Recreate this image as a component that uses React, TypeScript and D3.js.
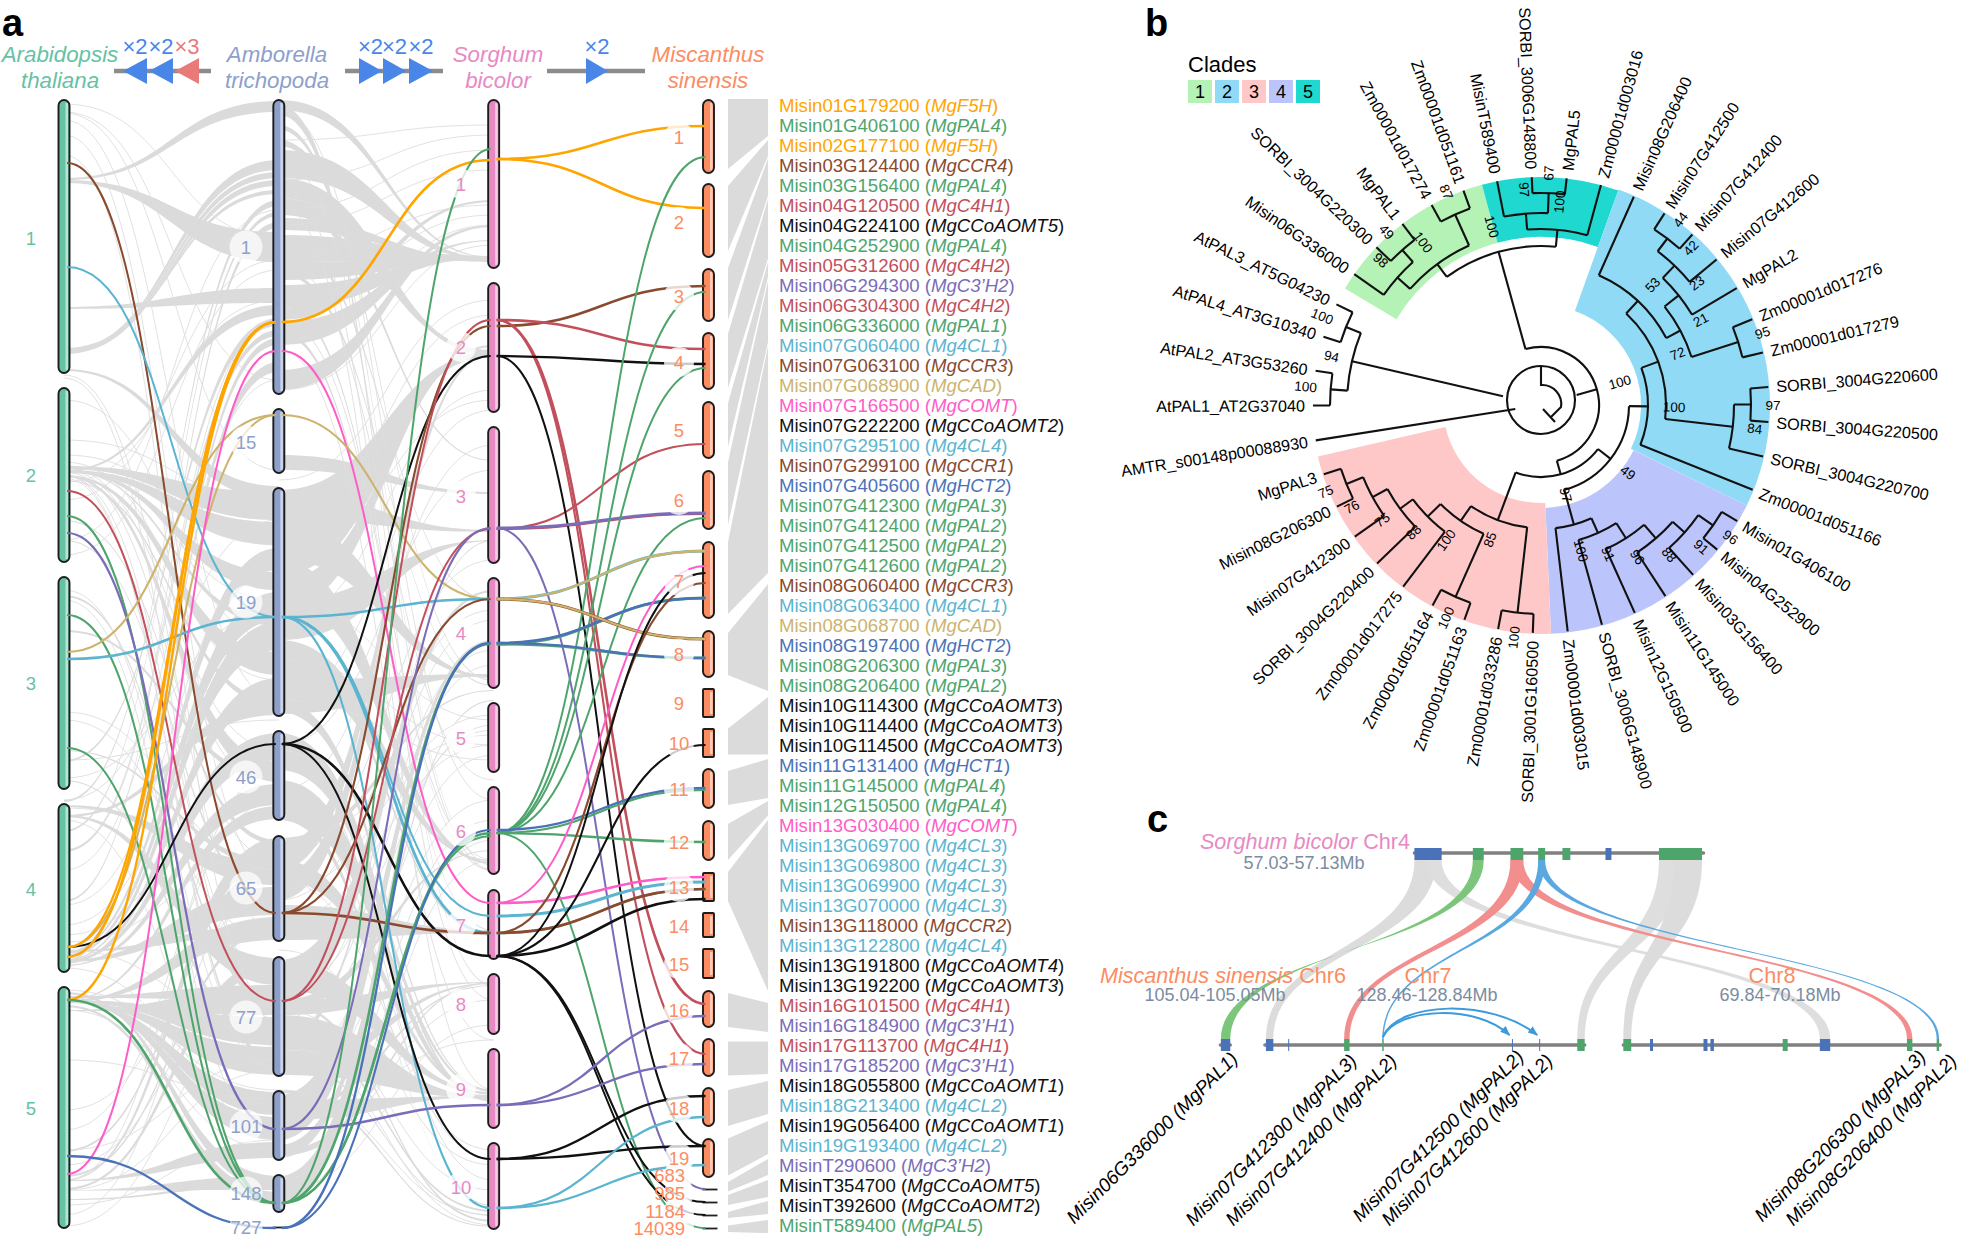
import React from "react";
import * as d3 from "d3";

const W = 1961, H = 1245;
const FONT = "'Liberation Sans', Arial, sans-serif";

// ---------- palette ----------
const C: Record<string, string> = {
  F5H: "#FFA500", PAL: "#4EA56C", CCR: "#8A4A2E", CCR4: "#8A4A2E", C4H: "#C2505C", OMT: "#111111",
  C3H: "#7A6CB8", CL: "#5BB4D0", CAD: "#CDB36C", COMT: "#FF5CC8", HCT: "#4A72B8",
};
const SP = { arab: "#66C2A5", amb: "#8DA0CB", sor: "#E78AC3", mis: "#FC8D62" };

// ---------- panel a: chromosomes (top, bottom, on a shared position axis) ----------
const tracks = ["arab", "amb", "sor", "mis"];
const arabChroms = [[100, 373], [388, 562], [577, 789], [804, 972], [987, 1228]];
const ambChroms = [[100, 394], [409, 473], [488, 716], [731, 820], [836, 941], [957, 1076], [1091, 1160], [1175, 1212], [1227, 1229]];
const sorChroms = [[100, 268], [283, 412], [427, 563], [578, 688], [703, 772], [787, 874], [890, 959], [974, 1034], [1049, 1128], [1143, 1229]];
const misChroms = [[100, 173], [184, 257], [269, 321], [333, 389], [402, 458], [471, 529], [542, 618], [631, 677], [689, 717], [729, 757], [769, 808], [821, 860], [873, 901], [913, 937], [949, 978], [991, 1027], [1039, 1076], [1088, 1126], [1139, 1177], [1189, 1190], [1202, 1203], [1215, 1216], [1228, 1229]];
const misSquare = [8, 9, 12, 13, 14];

const arabLabels = [["1", 238], ["2", 475], ["3", 683], ["4", 889], ["5", 1108]];
const ambLabels = [["1", 247], ["15", 442], ["19", 602], ["46", 777], ["65", 888], ["77", 1017], ["101", 1126], ["148", 1193], ["727", 1227]];
const sorLabels = [["1", 184], ["2", 347], ["3", 496], ["4", 633], ["5", 738], ["6", 831], ["7", 925], ["8", 1004], ["9", 1089], ["10", 1187]];
const misLabels = [["1", 137], ["2", 222], ["3", 296], ["4", 362], ["5", 430], ["6", 500], ["7", 581], ["8", 654], ["9", 703], ["10", 743], ["11", 789], ["12", 842], ["13", 887], ["14", 926], ["15", 964], ["16", 1010], ["17", 1058], ["18", 1108], ["19", 1158], ["683", 1175], ["985", 1193], ["1184", 1211], ["14039", 1228]];

// ---------- gray synteny ribbons [left top, left bottom, right top, right bottom] ----------
const ribbonsArabAmb = [
  [178, 180, 101, 112], [180, 183, 232, 262], [350, 352, 160, 170], [351, 353, 172, 178], [352, 354, 180, 186],
  [348, 350, 190, 194], [307, 309, 288, 303], [369, 371, 486, 500], [466, 469, 492, 520], [470, 473, 522, 545],
  [952, 954, 548, 570], [470, 472, 572, 590], [955, 957, 592, 620], [960, 961, 622, 650], [475, 477, 652, 675],
  [962, 964, 678, 700], [815, 817, 702, 715], [960, 962, 733, 760], [475, 477, 762, 782], [965, 966, 784, 805],
  [1000, 1001, 806, 819], [1180, 1181, 838, 860], [805, 807, 862, 885], [960, 962, 887, 915], [1000, 1002, 917, 940],
  [815, 817, 958, 985], [1010, 1011, 987, 1015], [1000, 1002, 1017, 1045], [1002, 1003, 1047, 1075],
  [1000, 1001, 1092, 1115], [1000, 1001, 1117, 1140], [1180, 1181, 1142, 1158], [1190, 1190.6, 1176, 1190],
  [1005, 1007, 1192, 1205], [470, 472, 305, 315], [960, 962, 338, 345], [955, 957, 362, 372], [800, 802, 200, 206],
  [830, 832, 212, 216], [900, 902, 222, 228], [760, 762, 318, 326], [850, 852, 330, 336], [992, 994, 1176, 1190],
  [1188, 1190, 958, 970], [1199, 1200, 1182, 1186], [950, 952, 925, 935], [996, 998, 985, 1000], [1150, 1152, 865, 872],
  [1175, 1177, 925, 930], [595, 597, 1000, 1006], [630, 632, 775, 781], [470, 471, 620, 626], [480, 481, 700, 706],
  [520, 521, 840, 845], [540, 541, 900, 905], [750, 751, 860, 866], [780, 781, 1040, 1046], [475, 476, 1060, 1066],
];
const ribbonsAmbSor = [
  [100, 110, 257, 258], [105, 115, 985, 986], [150, 178, 258, 260], [178, 198, 352, 355], [198, 215, 350, 352],
  [218, 230, 260, 262], [235, 262, 256, 259], [262, 280, 258, 260], [285, 308, 256, 258], [308, 320, 200, 202],
  [322, 345, 240, 241], [370, 390, 225, 227], [455, 470, 492, 494], [490, 540, 352, 356], [540, 575, 350, 352],
  [580, 610, 345, 347], [495, 520, 530, 532], [520, 560, 676, 678], [600, 640, 540, 541], [560, 600, 862, 864],
  [640, 680, 860, 861], [680, 714, 674, 676], [905, 940, 930, 933], [1060, 1075, 983, 984], [1000, 1015, 982, 983],
  [1015, 1050, 1097, 1099], [1050, 1075, 1095, 1098], [1100, 1120, 1096, 1097], [960, 990, 1092, 1094], [1030, 1034, 1210, 1212],
  [1000, 1003, 1220, 1222], [1090, 1093, 1226, 1227], [1060, 1062, 1215, 1216], [733, 750, 1100, 1102], [750, 770, 1090, 1092],
  [780, 818, 1098, 1100], [845, 870, 352, 354], [875, 900, 350, 351], [838, 845, 690, 691], [960, 1000, 590, 592],
  [1095, 1140, 640, 642], [1145, 1158, 700, 701], [1176, 1205, 640, 641], [200, 208, 460, 461], [240, 244, 600, 601],
  [270, 274, 685, 686], [300, 304, 870, 871], [330, 334, 930, 931], [140, 146, 680, 681], [125, 130, 865, 866],
  [640, 650, 935, 936], [700, 712, 1090, 1091], [860, 880, 1094, 1095], [1000, 1010, 850, 851], [1040, 1046, 540, 541],
  [1110, 1115, 985, 986], [1150, 1156, 982, 983], [820, 812, 1205, 1206],
];

// ---------- thin gray lines [left y, right y] ----------
const thinArabAmb = [
  [104, 238], [112, 380], [113, 470], [120, 700], [135, 880], [155, 1010], [350, 168], [352, 185], [375, 930], [378, 1020],
  [400, 640], [440, 500], [455, 545], [462, 680], [466, 600], [468, 750], [470, 790], [472, 860], [475, 980], [478, 1070],
  [482, 300], [500, 260], [540, 210], [555, 270], [590, 1070], [600, 1140], [712, 870], [720, 940], [760, 720], [778, 610],
  [800, 520], [808, 870], [820, 1140], [850, 320], [870, 380], [905, 560], [925, 640], [935, 760], [942, 850], [950, 1030],
  [968, 1105], [990, 1090], [1010, 1150], [1060, 1100], [1110, 900], [1130, 800], [1150, 1060], [1165, 960], [1180, 770], [1190, 1070],
  [1205, 1140], [1215, 880], [1226, 1000],
];
const thinAmbSor = [
  [140, 125], [180, 135], [210, 150], [225, 170], [255, 205], [300, 215], [340, 225], [390, 245], [480, 300], [520, 315],
  [560, 400], [620, 390], [700, 410], [745, 470], [790, 445], [860, 560], [900, 610], [965, 620], [1000, 650], [1020, 665],
  [110, 800], [160, 870], [185, 1000], [205, 1090], [260, 780], [320, 860], [350, 1040], [600, 720], [660, 745], [700, 760],
  [840, 735], [890, 715], [920, 745], [990, 730], [1030, 725], [1070, 755], [1100, 800], [1150, 820], [1180, 840], [1200, 860],
  [760, 1180], [810, 1160], [880, 1150], [950, 1165], [1010, 1190], [1045, 1225], [1090, 1215], [1120, 1040], [1155, 1000], [1190, 1025],
];

// ---------- coloured links [left y, right y, colour key, stroke width] ----------
const linksArabAmb = [
  [163, 913, "CCR", 2], [267, 617, "CL", 2], [491, 1001, "C4H", 2], [516, 1203, "PAL", 2], [533, 1129, "C3H", 2.2],
  [615, 1203, "PAL", 2], [652, 415, "CAD", 2.1], [659, 617, "CL", 2.6], [748, 1203, "PAL", 2], [947, 744, "OMT", 1.9],
  [947, 415, "CAD", 2], [957, 322, "F5H", 2.6], [947, 322, "F5H", 2.1], [1000, 322, "F5H", 2.3], [1000, 1203, "PAL", 2.6],
  [1174, 351, "COMT", 2], [1156, 1228, "HCT", 2.3],
];
const linksAmbSor = [
  [322, 160, "F5H", 2.6], [351, 903, "COMT", 2], [415, 599, "CAD", 2.1], [617, 599, "CL", 2.6], [617, 916, "CL", 2],
  [617, 933, "CL", 2.8], [617, 1208, "CL", 2], [744, 356, "OMT", 2], [744, 956, "OMT", 2.6], [744, 1159, "OMT", 2],
  [913, 326, "CCR", 2.1], [913, 599, "CCR", 2.1], [913, 933, "CCR", 2.6], [1001, 320, "C4H", 2], [1001, 529, "C4H", 2],
  [1129, 528, "C3H", 2], [1129, 1105, "C3H", 2.6], [1203, 149, "PAL", 2], [1203, 644, "PAL", 2.6], [1203, 833, "PAL", 2.6],
  [1203, 836, "PAL", 2], [1228, 643, "HCT", 2.3], [1228, 830, "HCT", 2.1],
];
const linksSorMis = [
  [159, 126, "F5H", 2.6], [159, 208, "F5H", 2.6], [326, 286, "CCR", 2.6], [320, 349, "C4H", 2.6], [320, 1004, "C4H", 2.6],
  [320, 1054, "C4H", 2.1], [529, 444, "C4H", 2.1], [529, 514, "C4H", 2.1], [356, 364, "OMT", 2.3], [356, 1146, "OMT", 2],
  [528, 513, "C3H", 2.8], [528, 1189, "C3H", 2], [833, 157, "PAL", 2], [833, 292, "PAL", 2], [833, 368, "PAL", 2],
  [833, 518, "PAL", 2], [833, 842, "PAL", 2.3], [833, 790, "PAL", 2.1], [833, 1228, "PAL", 2], [644, 598, "PAL", 2.8],
  [644, 658, "PAL", 2.8], [643, 598, "HCT", 2.6], [643, 658, "HCT", 2.3], [830, 788, "HCT", 2.3], [599, 551, "CL", 3],
  [599, 551, "CAD", 2.3], [599, 639, "CCR", 3], [599, 639, "CAD", 2.3], [903, 566, "COMT", 2], [903, 877, "COMT", 2.6],
  [916, 882, "CL", 3], [933, 889, "CL", 2.3], [933, 889, "CCR", 2.6], [933, 583, "CCR", 2.2], [956, 573, "OMT", 2],
  [956, 745, "OMT", 2.1], [956, 1202, "OMT", 2], [956, 1215, "OMT", 2], [956, 899, "OMT", 2.6], [1159, 1096, "OMT", 2.3],
  [1159, 1146, "OMT", 2.3], [1208, 1117, "CL", 2.3], [1208, 1165, "CL", 2.3], [1105, 1016, "C3H", 2.3], [1105, 1064, "C3H", 2.3],
];

// ---------- block on the right of the chromosomes [left top, left bottom, right top, right bottom] ----------
const misBlocks = [
  [99, 169, 99, 136], [186, 251, 140, 156], [268, 320, 158.5, 195.5], [334, 388, 199, 258.5], [403, 447, 262, 277],
  [462, 525, 281, 342], [542, 614, 346, 573], [633, 675, 584, 691], [728.5, 754.4, 697, 754.4], [771, 805, 759, 798],
  [824, 860, 801, 815.5], [872, 901, 820, 991], [993, 1027, 1003, 1032], [1041.5, 1075.5, 1041.5, 1074], [1090, 1126, 1081, 1114],
  [1138.5, 1175.5, 1121, 1154], [1182, 1191.5, 1159, 1175], [1195, 1205, 1180, 1197], [1212, 1218, 1201, 1214], [1225.5, 1232, 1220, 1233],
];

// ---------- gene list ----------
const genes = [
  ["Misin01G179200", "MgF5H", "F5H"], ["Misin01G406100", "MgPAL4", "PAL"], ["Misin02G177100", "MgF5H", "F5H"], ["Misin03G124400", "MgCCR4", "CCR"],
  ["Misin03G156400", "MgPAL4", "PAL"], ["Misin04G120500", "MgC4H1", "C4H"], ["Misin04G224100", "MgCCoAOMT5", "OMT"], ["Misin04G252900", "MgPAL4", "PAL"],
  ["Misin05G312600", "MgC4H2", "C4H"], ["Misin06G294300", "MgC3’H2", "C3H"], ["Misin06G304300", "MgC4H2", "C4H"], ["Misin06G336000", "MgPAL1", "PAL"],
  ["Misin07G060400", "Mg4CL1", "CL"], ["Misin07G063100", "MgCCR3", "CCR"], ["Misin07G068900", "MgCAD", "CAD"], ["Misin07G166500", "MgCOMT", "COMT"],
  ["Misin07G222200", "MgCCoAOMT2", "OMT"], ["Misin07G295100", "Mg4CL4", "CL"], ["Misin07G299100", "MgCCR1", "CCR"], ["Misin07G405600", "MgHCT2", "HCT"],
  ["Misin07G412300", "MgPAL3", "PAL"], ["Misin07G412400", "MgPAL2", "PAL"], ["Misin07G412500", "MgPAL2", "PAL"], ["Misin07G412600", "MgPAL2", "PAL"],
  ["Misin08G060400", "MgCCR3", "CCR"], ["Misin08G063400", "Mg4CL1", "CL"], ["Misin08G068700", "MgCAD", "CAD"], ["Misin08G197400", "MgHCT2", "HCT"],
  ["Misin08G206300", "MgPAL3", "PAL"], ["Misin08G206400", "MgPAL2", "PAL"], ["Misin10G114300", "MgCCoAOMT3", "OMT"], ["Misin10G114400", "MgCCoAOMT3", "OMT"],
  ["Misin10G114500", "MgCCoAOMT3", "OMT"], ["Misin11G131400", "MgHCT1", "HCT"], ["Misin11G145000", "MgPAL4", "PAL"], ["Misin12G150500", "MgPAL4", "PAL"],
  ["Misin13G030400", "MgCOMT", "COMT"], ["Misin13G069700", "Mg4CL3", "CL"], ["Misin13G069800", "Mg4CL3", "CL"], ["Misin13G069900", "Mg4CL3", "CL"],
  ["Misin13G070000", "Mg4CL3", "CL"], ["Misin13G118000", "MgCCR2", "CCR"], ["Misin13G122800", "Mg4CL4", "CL"], ["Misin13G191800", "MgCCoAOMT4", "OMT"],
  ["Misin13G192200", "MgCCoAOMT3", "OMT"], ["Misin16G101500", "MgC4H1", "C4H"], ["Misin16G184900", "MgC3’H1", "C3H"], ["Misin17G113700", "MgC4H1", "C4H"],
  ["Misin17G185200", "MgC3’H1", "C3H"], ["Misin18G055800", "MgCCoAOMT1", "OMT"], ["Misin18G213400", "Mg4CL2", "CL"], ["Misin19G056400", "MgCCoAOMT1", "OMT"],
  ["Misin19G193400", "Mg4CL2", "CL"], ["MisinT290600", "MgC3’H2", "C3H"], ["MisinT354700", "MgCCoAOMT5", "OMT"], ["MisinT392600", "MgCCoAOMT2", "OMT"],
  ["MisinT589400", "MgPAL5", "PAL"],
];

// ---------- species headers and polyploidy icons ----------
const headers = [
  ["Arabidopsis", "thaliana", 60, SP.arab], ["Amborella", "trichopoda", 277, SP.amb],
  ["Sorghum", "bicolor", 498, SP.sor], ["Miscanthus", "sinensis", 708, SP.mis],
];
const iconBars = [[114, 211], [345, 443], [547, 645]];
// left edge, right edge, direction, label, colour
const iconTriangles = [
  [123, 147, -1, "×2", "#4A86E8"], [149, 173, -1, "×2", "#4A86E8"], [175, 199, -1, "×3", "#E87A7A"],
  [359, 382, 1, "×2", "#4A86E8"], [383, 406, 1, "×2", "#4A86E8"], [409, 433, 1, "×2", "#4A86E8"],
  [586, 608, 1, "×2", "#4A86E8"],
];

// ---------- panel b: tree ----------
type N = { r?: number; name?: string; stem?: number; c?: N[] };
const L = (name: string): N => ({ name });
const treeGreen: N = { r: 175, c: [
  { r: 192, c: [L("Misin06G336000"), { r: 208, c: [L("SORBI_3004G220300"), L("MgPAL1")] }] },
  { r: 209, c: [L("Zm00001d017274"), L("Zm00001d051161")] },
] };
const treeTeal: N = { r: 176, c: [
  { r: 192, c: [L("MisinT589400"), { r: 212, c: [L("SORBI_3006G148800"), L("MgPAL5")] }] },
  L("Zm00001d003016"),
] };
const treeBlue: N = { r: 107, c: [
  { r: 125, c: [
    { r: 142, c: [L("Misin08G206400"), { r: 158, c: [
      { r: 176, c: [{ r: 193, c: [{ r: 209, c: [L("Misin07G412500"), L("Misin07G412400")] }, L("Misin07G412600")] }, L("MgPAL2")] },
      { r: 207, c: [L("Zm00001d017276"), L("Zm00001d017279")] },
    ] }] },
    { r: 193, c: [{ r: 210, c: [L("SORBI_3004G220600"), L("SORBI_3004G220500")] }, L("SORBI_3004G220700")] },
  ] },
  L("Zm00001d051166"),
] };
const treePurple: N = { r: 124, c: [{ r: 140, c: [{ r: 158, c: [{ r: 176, c: [{ r: 192, c: [{ r: 210, c: [L("Misin01G406100"), L("Misin04G252900")] }, L("Misin03G156400")] }, L("Misin11G145000")] }, L("Misin12G150500")] }, L("SORBI_3006G148900")] }, L("Zm00001d003015")] };
const treePink: N = { r: 123, c: [
  { r: 209, c: [L("SORBI_3001G160500"), L("Zm00001d033286")] },
  { r: 141, c: [
    { r: 210, c: [L("Zm00001d051163"), L("Zm00001d051164")] },
    { r: 159, c: [L("Zm00001d017275"), { r: 175, c: [L("SORBI_3004G220400"), { r: 192, c: [L("Misin07G412300"), { r: 210, c: [L("Misin08G206300"), L("MgPAL3")] }] }] }] },
  ] },
] };
const treeAt: N = { r: 194, stem: 39, c: [
  { r: 211, c: [L("AtPAL1_AT2G37040"), L("AtPAL2_AT3G53260")] },
  { r: 210, c: [L("AtPAL4_AT3G10340"), L("AtPAL3_AT5G04230")] },
] };
const treeRoot: N = { c: [
  { r: 58, stem: 37, c: [{ r: 159, c: [treeGreen, treeTeal] }, { r: 72, c: [{ r: 88, c: [treeBlue, treePurple] }, treePink] }] },
  { name: "AMTR_s00148p00088930", stem: 26 },
  treeAt,
] };
// [clade number, start angle, end angle, inner radius, outer radius, colour]
const cladeSectors = [
  [1, -59.3, -15, 168, 228, "#B5F2B5"], [5, -15, 19.8, 168, 228, "#1FD8D0"], [2, 19.8, 116, 100, 229, "#90DAF6"],
  [4, 116, 177.5, 103, 229, "#BCC5FB"], [3, 177.5, 257, 98, 229, "#FFC8C8"],
];
// [support value, angle, radius]
const supports = [
  ["49", -41.8, 232], ["100", -36, 201], ["98", -48, 216], ["87", -24, 233], ["100", -15.5, 185], ["97", -4.5, 216],
  ["67", 2, 232], ["100", 5.3, 204], ["44", 37, 232], ["42", 43.7, 217], ["23", 52, 198], ["53", 43, 164], ["21", 62, 181],
  ["72", 69.5, 146], ["95", 72, 233], ["100", 74, 82], ["100", 91, 133], ["97", 90, 232], ["84", 96.4, 215], ["96", 125, 231],
  ["91", 131.6, 214], ["88", 139.5, 197], ["96", 147.7, 180], ["91", 155.8, 163], ["100", 164.7, 151], ["97", 164.7, 93],
  ["49", 128, 110], ["100", 186.6, 234], ["85", 200.7, 144], ["100", 204, 233], ["100", 215, 165], ["88", 225, 180],
  ["75", 234, 196], ["76", 241.6, 215], ["75", 248, 232], ["100", 292, 236], ["94", 283, 215], ["100", 274.4, 236],
];
const cladeLegend = [[1, "#B5F2B5"], [2, "#90DAF6"], [3, "#FFC8C8"], [4, "#BCC5FB"], [5, "#1FD8D0"]];

// ---------- panel c ----------
const cBars = [[1418, 1710, 853], [1222, 1232, 1045], [1267, 1590, 1045], [1629, 1949, 1045]];
const cTopBlocks = [[1418, 1445.5, "#4A72B8"], [1477, 1488, "#4EA56C"], [1515, 1528, "#4EA56C"], [1543, 1550, "#4EA56C"], [1567.5, 1575.5, "#4EA56C"], [1611, 1617, "#4A72B8"], [1665, 1708.5, "#4EA56C"]];
const cBottomBlocks = [[1222.5, 1232, "#4A72B8"], [1268, 1275.5, "#4A72B8"], [1290.5, 1291.5, "#4A72B8"], [1347, 1352.5, "#4EA56C"], [1385.5, 1387, "#4EA56C"], [1516.5, 1517.5, "#4A72B8"], [1544, 1545, "#4A72B8"], [1582.5, 1590, "#4EA56C"], [1629, 1637, "#4EA56C"], [1656, 1659, "#4A72B8"], [1710, 1714, "#4A72B8"], [1717, 1720.5, "#4A72B8"], [1790, 1795, "#4EA56C"], [1827.5, 1838, "#4A72B8"], [1915.5, 1921, "#4EA56C"], [1945.5, 1948, "#4EA56C"]];
// top left, top right, bottom left, bottom right, colour
const cRibbons = [
  [1418, 1440, 1268, 1275.5, "#DCDCDC"], [1430, 1445.5, 1827.5, 1838, "#DEDEDE"], [1665, 1690, 1582.5, 1590, "#DEDEDE"], [1680, 1708.5, 1629, 1637, "#DCDCDC"],
  [1477, 1488, 1232, 1222.5, "#7CC67C"], [1515, 1528, 1347, 1352.5, "#F28E8E"], [1515, 1528, 1915.5, 1921, "#F28E8E"],
  [1543, 1550, 1385.5, 1387, "#5AA8E0"], [1543, 1550, 1945.5, 1948, "#5AA8E0"],
];
const cArrows = [[1386, 1516, 1012], [1386, 1544, 1006]];
const cGeneLabels = [
  ["Misin06G336000 (MgPAL1)", 1239, 1060], ["Misin07G412300 (MgPAL3)", 1358, 1062], ["Misin07G412400 (MgPAL2)", 1398, 1062],
  ["Misin07G412500 (MgPAL2)", 1525, 1058], ["Misin07G412600 (MgPAL2)", 1554, 1062], ["Misin08G206300 (MgPAL3)", 1927, 1058],
  ["Misin08G206400 (MgPAL2)", 1958, 1062],
];

// ---------- scales ----------
const xTrack = d3.scalePoint<string>().domain(tracks).range([64, 708.5]);
const yPos = d3.scaleLinear().domain([0, H]).range([0, H]);
const xC = d3.scaleLinear().domain([1060, 1960]).range([1060, 1951]);
const [treeX, treeY] = [1541, 405];
const leafAngle = d3.scaleLinear().domain([0, 1]).range([-55, -55 + 8.78]);
const LEAF_R = 228;

function ribbonPath(x0: number, x1: number, r: number[]) {
  const [a0, a1, b0, b1] = r.map(yPos);
  const m = (x0 + x1) / 2, p = d3.path();
  p.moveTo(x0, a0);
  p.bezierCurveTo(m, a0, m, b0, x1, b0);
  p.lineTo(x1, b1);
  p.bezierCurveTo(m, b1, m, a1, x0, a1);
  p.closePath();
  return p.toString();
}
const hLink = d3.linkHorizontal<any, any>().x((d: any) => d[0]).y((d: any) => d[1]);

function polar(a: number, r: number): [number, number] {
  const t = (a * Math.PI) / 180;
  return [treeX + r * Math.sin(t), treeY - r * Math.cos(t)];
}
function arcD(a0: number, a1: number, r: number) {
  const [x0, y0] = polar(a0, r), [x1, y1] = polar(a1, r);
  return `M${x0},${y0}A${r},${r} 0 ${Math.abs(a1 - a0) > 180 ? 1 : 0} ${a1 > a0 ? 1 : 0} ${x1},${y1}`;
}

// walks the tree, giving every leaf its slot and every node the middle of its children
function layoutTree() {
  const segs: string[] = [];
  const leaves: { name: string; a: number }[] = [];
  let i = 0;
  function walk(n: N): number {
    if (!n.c) {
      const a = leafAngle(i++);
      leaves.push({ name: n.name!, a });
      return a;
    }
    const as = n.c.map(walk);
    const lo = as[0], hi = as[as.length - 1], a = (lo + hi) / 2;
    if (n.r) segs.push(arcD(lo, hi, n.r));
    n.c.forEach((ch, k) => {
      const from = ch.stem ?? n.r ?? 0;
      const to = ch.c ? ch.r! : LEAF_R;
      const [x0, y0] = polar(as[k], from), [x1, y1] = polar(as[k], to);
      segs.push(`M${x0},${y0}L${x1},${y1}`);
    });
    return a;
  }
  walk(treeRoot);
  return { segs, leaves };
}

function Chrom({ x, y0, y1, color, square }: any) {
  const w = 11, h = y1 - y0;
  if (h < 3) return <line x1={x - 6} x2={x + 9} y1={y0 + 0.5} y2={y0 + 0.5} stroke="#222" strokeWidth={1.8} />;
  const rx = square ? 1 : 5.5;
  return (
    <g>
      <rect x={x - w / 2} y={y0} width={w} height={h} rx={rx} fill={color} />
      <rect x={x + 1.5} y={y0 + 3} width={2.6} height={h - 6} fill="#fff" opacity={0.55} />
      <rect x={x - w / 2} y={y0} width={w} height={h} rx={rx} fill="none" stroke="#1c1c1c" strokeWidth={1.9} />
    </g>
  );
}

function PanelA() {
  const [xA, xB, xS, xM] = tracks.map((t) => xTrack(t)!);
  const gap = 3;
  const labels = (list: any[], x: number, halo: number, op: number) =>
    list.map(([t, y]) => (
      <circle key={t + y} cx={x} cy={yPos(y)} r={halo} fill="#fff" opacity={op} />
    ));
  const text = (list: any[], x: number, color: string) =>
    list.map(([t, y]) => {
      const big = t.length > 2 && x > 600;
      return (
        <text key={t + y} x={big ? x + 6 : x} y={yPos(y)} fill={color} fontSize={18.5} textAnchor={big ? "end" : "middle"} dominantBaseline="central">
          {t}
        </text>
      );
    });
  return (
    <g fontFamily={FONT}>
      <text x={2} y={36} fontSize={38} fontWeight="bold">a</text>
      {headers.map(([a, b, x, c]: any) => (
        <g key={a} fill={c} fontSize={22.3} fontStyle="italic" textAnchor="middle">
          <text x={x} y={62}>{a}</text>
          <text x={x} y={88}>{b}</text>
        </g>
      ))}
      {iconBars.map(([a, b]) => <line key={a} x1={a} x2={b} y1={71} y2={71} stroke="#8C8C8C" strokeWidth={4.5} />)}
      {iconTriangles.map(([a, b, d, t, c]: any, i) => (
        <g key={i}>
          <path d={d > 0 ? `M${a},58L${b},71L${a},84Z` : `M${b},58L${a},71L${b},84Z`} fill={c} />
          <text x={(a + b) / 2} y={54} textAnchor="middle" fontSize={22} fill={c}>{t}</text>
        </g>
      ))}
      <g fill="#DBDBDB">
        {ribbonsArabAmb.map((r, i) => <path key={i} d={ribbonPath(xA, xB, r)} />)}
        {ribbonsAmbSor.map((r, i) => <path key={i} d={ribbonPath(xB, xS, r)} />)}
      </g>
      <g fill="none" stroke="#DEDEDE" strokeWidth={0.9}>
        {thinArabAmb.map(([a, b], i) => <path key={i} d={hLink({ source: [xA, yPos(a)], target: [xB, yPos(b)] })!} />)}
        {thinAmbSor.map(([a, b], i) => <path key={i} d={hLink({ source: [xB, yPos(a)], target: [xS, yPos(b)] })!} />)}
      </g>
      <g fill="#DBDBDB">
        {misBlocks.map(([a, b, c, d], i) => <path key={i} d={`M728,${yPos(a)}L768,${yPos(c)}L768,${yPos(d)}L728,${yPos(b)}Z`} />)}
      </g>
      {arabChroms.map(([a, b]) => <Chrom key={a} x={xA} y0={a} y1={b} color={SP.arab} />)}
      {ambChroms.map(([a, b]) => <Chrom key={a} x={xB} y0={a} y1={b} color={SP.amb} />)}
      {sorChroms.map(([a, b]) => <Chrom key={a} x={xS} y0={a} y1={b} color={SP.sor} />)}
      {misChroms.map(([a, b], i) => <Chrom key={a} x={xM} y0={a} y1={b} color={SP.mis} square={misSquare.includes(i)} />)}
      <g fill="none" strokeLinecap="butt">
        {linksArabAmb.map(([a, b, c, w]: any, i) => <path key={i} d={hLink({ source: [xA + gap, yPos(a)], target: [xB - gap, yPos(b)] })!} stroke={C[c]} strokeWidth={w} />)}
        {linksAmbSor.map(([a, b, c, w]: any, i) => <path key={i} d={hLink({ source: [xB + gap, yPos(a)], target: [xS - gap, yPos(b)] })!} stroke={C[c]} strokeWidth={w} />)}
        {linksSorMis.map(([a, b, c, w]: any, i) => <path key={i} d={hLink({ source: [xS + gap, yPos(a)], target: [xM - gap, yPos(b)] })!} stroke={C[c]} strokeWidth={w} />)}
      </g>
      {labels(ambLabels, 246, 16.5, 0.72)}
      {labels(sorLabels, 461, 15, 0.78)}
      {labels(misLabels, 679, 15, 0.78)}
      {text(arabLabels, 31, SP.arab)}
      {text(ambLabels, 246, SP.amb)}
      {text(sorLabels, 461, SP.sor)}
      {text(misLabels, 679, SP.mis)}
      {genes.map(([g, m, k], i) => (
        <text key={g} x={779} y={yPos(105 + i * 20)} fontSize={18.6} fill={C[k]} dominantBaseline="central">
          {g} (<tspan fontStyle="italic">{m}</tspan>)
        </text>
      ))}
    </g>
  );
}

function PanelB() {
  const { segs, leaves } = layoutTree();
  const rad = Math.PI / 180;
  const sector = d3.arc();
  const rot = (a: number) => {
    const n = ((a % 360) + 360) % 360;
    return n < 180 ? n - 90 : n + 90;
  };
  return (
    <g fontFamily={FONT}>
      <text x={1145} y={36} fontSize={38} fontWeight="bold">b</text>
      <text x={1188} y={72} fontSize={22}>Clades</text>
      {cladeLegend.map(([n, c]: any, i) => {
        const x = d3.scaleLinear().domain([0, 1]).range([1188, 1215])(i);
        return (
          <g key={n}>
            <rect x={x} y={80} width={24} height={23} fill={c} />
            <text x={x + 12} y={92} fontSize={18} textAnchor="middle" dominantBaseline="central">{n}</text>
          </g>
        );
      })}
      <g transform={`translate(${treeX},${treeY})`}>
        {cladeSectors.map(([n, a, b, r0, r1, c]: any) => (
          <path key={n} fill={c} d={sector({ innerRadius: r0, outerRadius: r1, startAngle: a * rad, endAngle: b * rad })!} />
        ))}
      </g>
      <g fill="none" stroke="#111" strokeWidth={2.1}>
        {segs.map((d, i) => <path key={i} d={d} />)}
        <circle cx={treeX} cy={treeY - 5} r={34} />
        <path d={`M${treeX},${treeY - 39}L${treeX},${treeY - 20}A19,19 0 0 1 ${treeX + 20},${treeY + 2}L${treeX + 10},${treeY + 12}`} />
        <path d={`M${treeX + 2},${treeY + 4}L${treeX + 14},${treeY + 17}`} />
      </g>
      {leaves.map(({ name, a }) => {
        const n = ((a % 360) + 360) % 360;
        const [x, y] = polar(a, LEAF_R + 8);
        return (
          <text key={name} x={x} y={y} fontSize={16.2} textAnchor={n < 180 ? "start" : "end"} dominantBaseline="central" transform={`rotate(${rot(a)} ${x} ${y})`}>
            {name}
          </text>
        );
      })}
      {supports.map(([t, a, r]: any, i) => {
        const [x, y] = polar(a, r);
        return (
          <text key={i} x={x} y={y} fontSize={13.5} textAnchor="middle" dominantBaseline="central" transform={`rotate(${rot(a)} ${x} ${y})`}>
            {t}
          </text>
        );
      })}
    </g>
  );
}

function PanelC() {
  const top = 860, bot = 1039, m = (top + bot) / 2;
  const rib = (r: any) => {
    const [a, b, c, d] = r.slice(0, 4).map(xC);
    return `M${a},${top}C${a},${m} ${c},${m} ${c},${bot}L${d},${bot}C${d},${m} ${b},${m} ${b},${top}Z`;
  };
  return (
    <g fontFamily={FONT}>
      <defs>
        <marker id="ah" markerWidth="12" markerHeight="10" refX="9" refY="4" orient="auto" markerUnits="userSpaceOnUse">
          <path d="M0,0L10,4L0,8Z" fill="#3B9BDC" />
        </marker>
      </defs>
      <text x={1147} y={832} fontSize={38} fontWeight="bold">c</text>
      {cRibbons.map((r: any, i) => <path key={i} d={rib(r)} fill={r[4]} />)}
      {cBars.map(([a, b, y], i) => <line key={i} x1={xC(a)} x2={xC(b)} y1={y} y2={y} stroke="#808080" strokeWidth={3.5} strokeLinecap="round" />)}
      {cTopBlocks.map(([a, b, c]: any) => <rect key={a} x={xC(a)} width={xC(b) - xC(a)} y={848} height={12} fill={c} />)}
      {cBottomBlocks.map(([a, b, c]: any) => <rect key={a} x={xC(a)} width={xC(b) - xC(a)} y={1039} height={12} fill={c} />)}
      {cArrows.map(([a, b, y]) => {
        const [p, q] = [xC(a), xC(b)];
        return (
          <path key={b} fill="none" stroke="#3B9BDC" strokeWidth={2} markerEnd="url(#ah)"
            d={`M${p},1037C${p + 15},${y - 5} ${(p + q) / 2 + 30},${y - 8} ${q - 2},1035`} />
        );
      })}
      <text x={1410} y={849} fontSize={21.6} fill={SP.sor} textAnchor="end"><tspan fontStyle="italic">Sorghum bicolor</tspan> Chr4</text>
      <text x={1304} y={869} fontSize={18} fill="#7C8CA0" textAnchor="middle">57.03-57.13Mb</text>
      <text x={1346} y={983} fontSize={21.6} fill={SP.mis} textAnchor="end"><tspan fontStyle="italic">Miscanthus sinensis</tspan> Chr6</text>
      <text x={1215} y={1001} fontSize={18} fill="#7C8CA0" textAnchor="middle">105.04-105.05Mb</text>
      <text x={1428} y={983} fontSize={21.6} fill={SP.mis} textAnchor="middle">Chr7</text>
      <text x={1427} y={1001} fontSize={18} fill="#7C8CA0" textAnchor="middle">128.46-128.84Mb</text>
      <text x={1772} y={983} fontSize={21.6} fill={SP.mis} textAnchor="middle">Chr8</text>
      <text x={1780} y={1001} fontSize={18} fill="#7C8CA0" textAnchor="middle">69.84-70.18Mb</text>
      {cGeneLabels.map(([t, x, y]: any) => (
        <text key={t} x={x} y={y} fontSize={19} fontStyle="italic" textAnchor="end" transform={`rotate(-45 ${x} ${y})`}>{t}</text>
      ))}
    </g>
  );
}

export default function App() {
  return (
    <svg width={W} height={H} viewBox={`0 0 ${W} ${H}`} style={{ position: "absolute", left: 0, top: 0, display: "block", background: "#fff" }}>
      <PanelA />
      <PanelB />
      <PanelC />
    </svg>
  );
}
